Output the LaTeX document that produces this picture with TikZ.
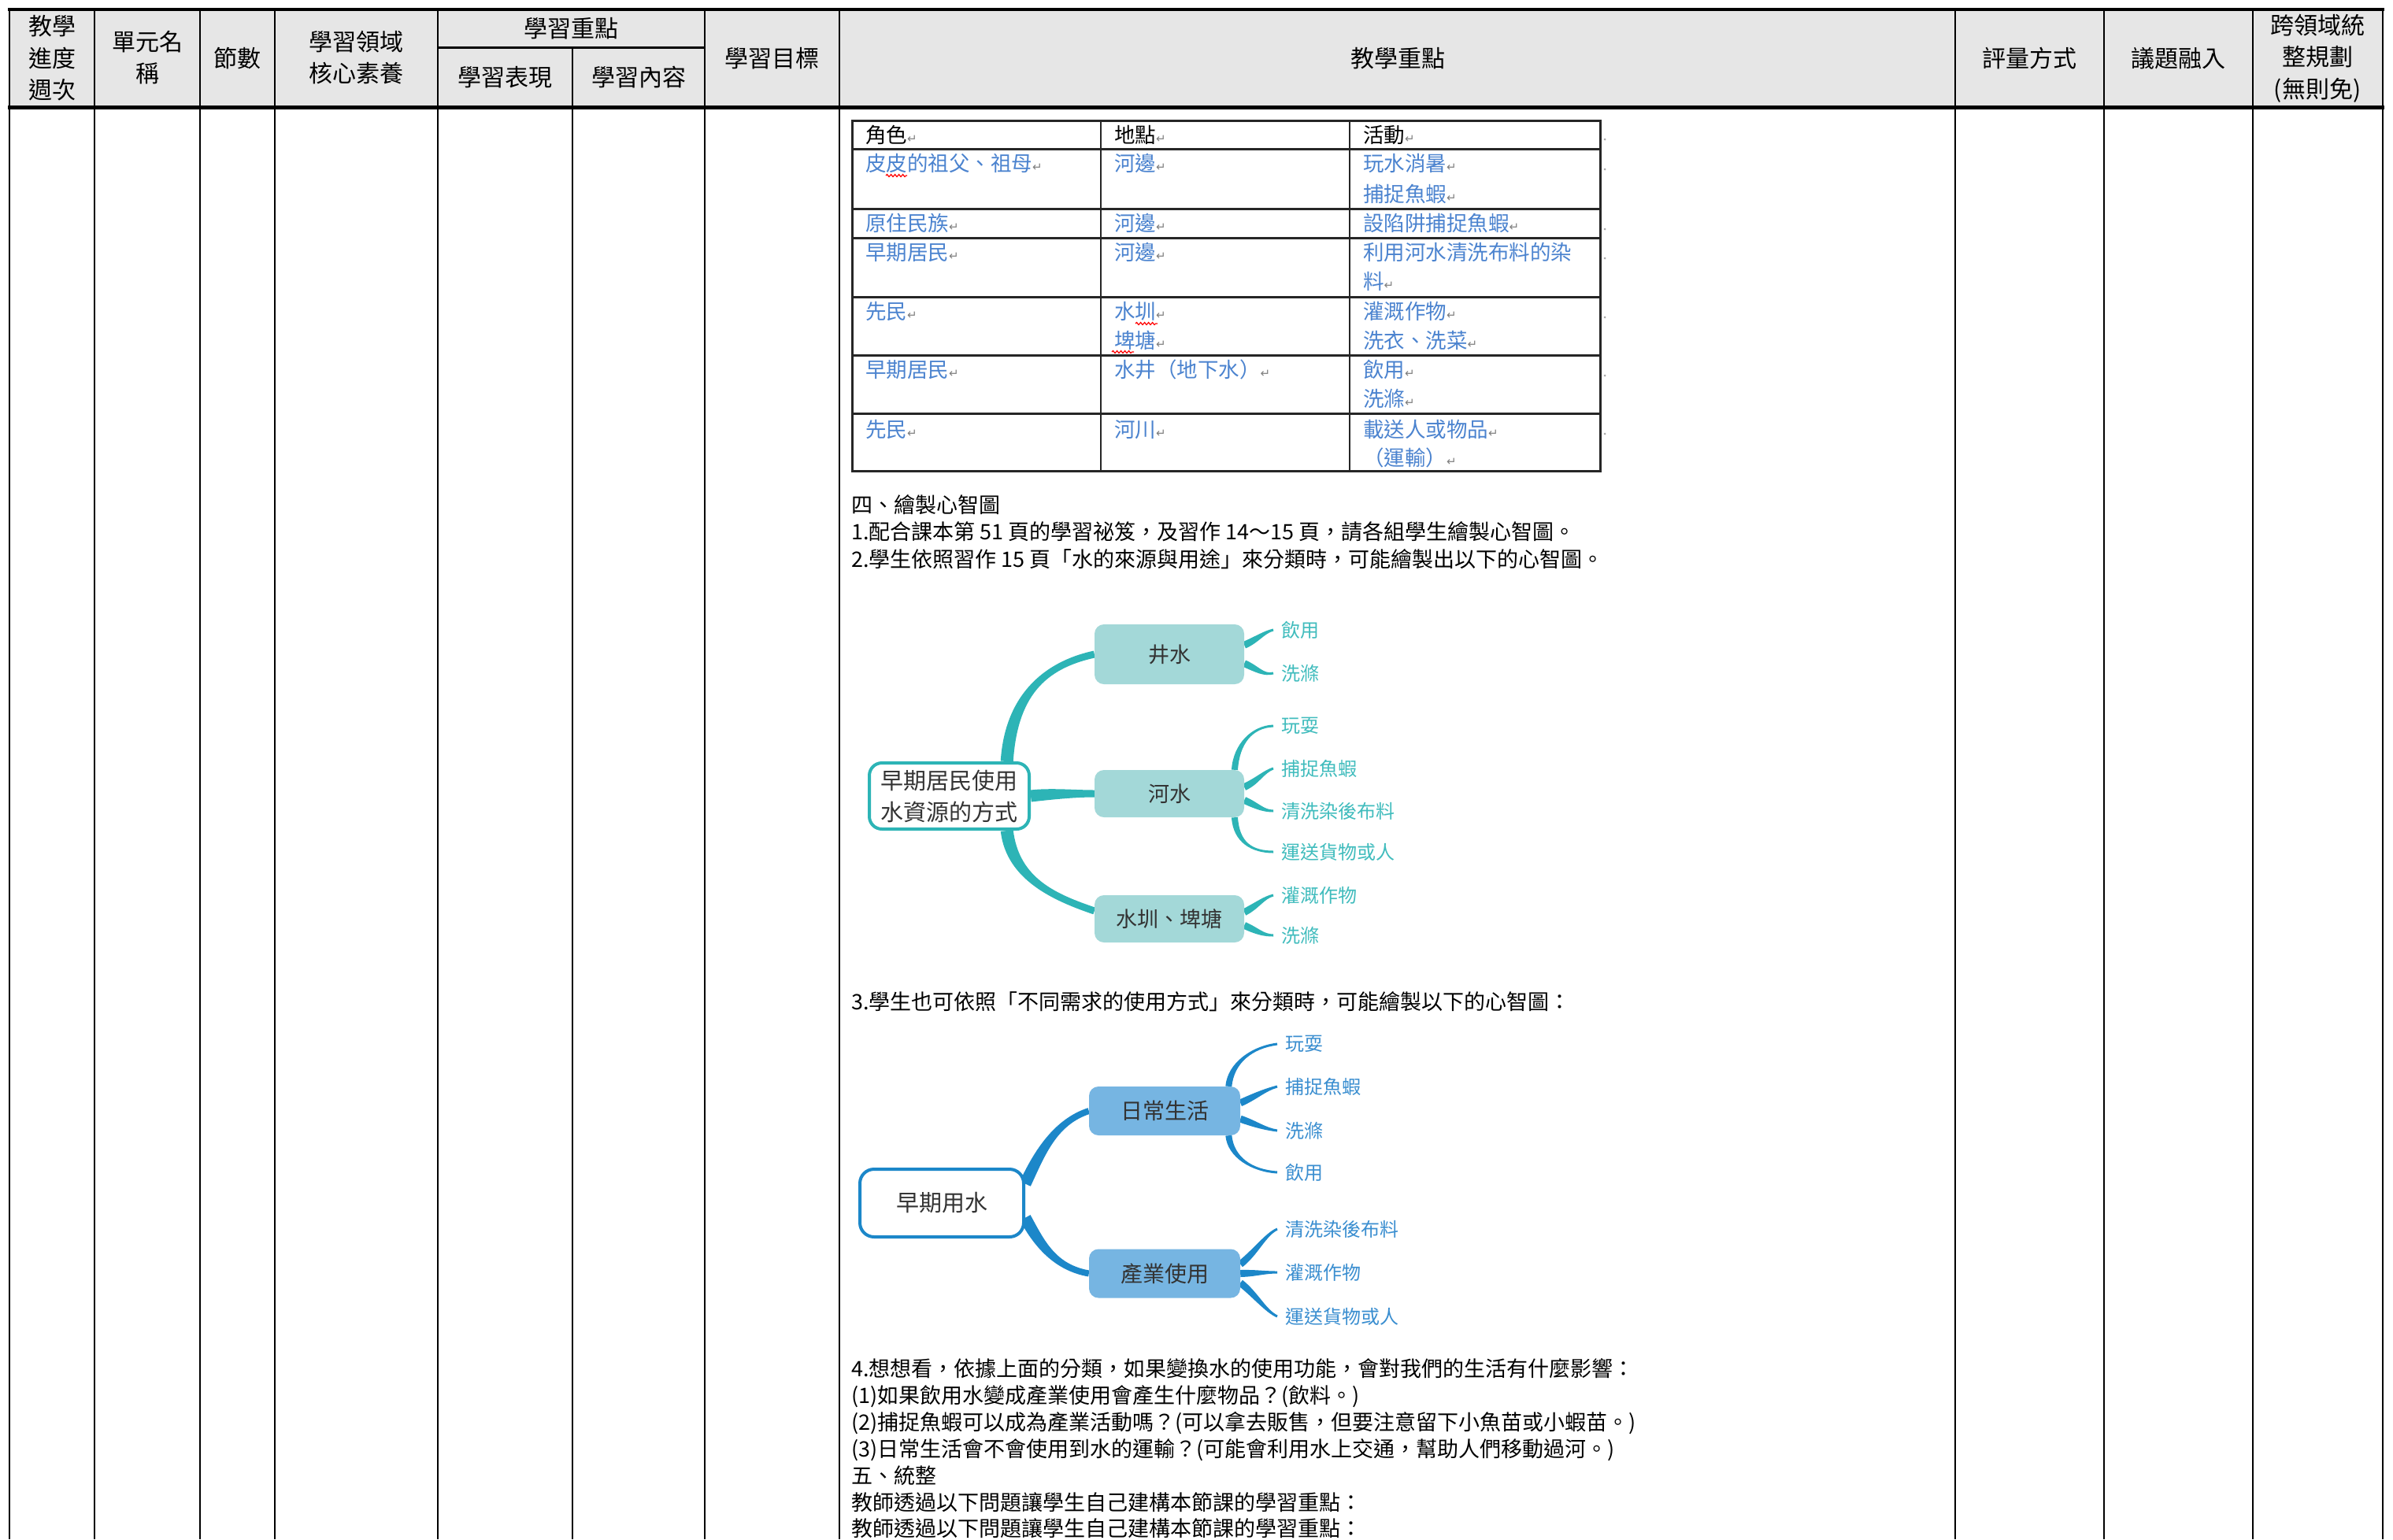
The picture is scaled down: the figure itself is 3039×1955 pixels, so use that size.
\documentclass[tikz,border=0pt]{standalone}
\usepackage{fontspec}
\setmainfont{Noto Sans CJK TC}
\newfontfamily\dejavu{DejaVu Sans}
\usetikzlibrary{calc,decorations.pathmorphing}
\pgfdeclarelayer{paper}
\pgfdeclarelayer{bg}
\pgfsetlayers{paper,bg,main}
\definecolor{hdrgray}{HTML}{E6E6E6}
\definecolor{cellblue}{HTML}{4B83CF}
\definecolor{teal1}{HTML}{2DB4B6}
\definecolor{tealfill}{HTML}{A3D8D8}
\definecolor{tealtext}{HTML}{40BCBD}
\definecolor{blue2}{HTML}{1C87C9}
\definecolor{bluefill}{HTML}{76B5E2}
\definecolor{bluetext}{HTML}{3A8ED0}
\definecolor{darktext}{HTML}{333333}
\newcommand\rt{{\dejavu\fontsize{15}{15}\selectfont\color{gray}↵}}
% tapered branch: color, A, c1, c2, B, half width at A, half width at B
\newcommand\mmbranch[7]{%
 \fill[#1] ($(#2)!#6!90:(#3)$) .. controls ($(#3)!#6!-90:(#2)$) and ($(#4)!#7!90:(#5)$) .. ($(#5)!#7!-90:(#4)$)
   -- ($(#5)!#7!90:(#4)$) .. controls ($(#4)!#7!-90:(#5)$) and ($(#3)!#6!90:(#2)$) .. ($(#2)!#6!-90:(#3)$) -- cycle;}
\begin{document}
\begin{tikzpicture}[x=1pt,y=-1pt,
 hdr/.style={font=\fontsize{30}{40.5}\selectfont, align=center, inner sep=0pt},
 body/.style={font=\fontsize{27}{34}\selectfont, anchor=base west, inner sep=0pt},
 cell/.style={font=\fontsize{26.5}{37}\selectfont, anchor=base west, inner sep=0pt, text=cellblue},
 cellh/.style={cell, text=black},
 root1/.style={draw=teal1, line width=4pt, fill=white, rounded corners=16pt, minimum width=203pt, minimum height=84pt, inner sep=0pt, align=center, font=\fontsize{29}{40}\selectfont, text=darktext},
 cat1/.style={fill=tealfill, rounded corners=12pt, minimum width=190pt, inner sep=0pt, font=\fontsize{27}{27}\selectfont, text=darktext},
 leaf1/.style={anchor=west, inner xsep=10pt, inner ysep=0pt, font=\fontsize{24}{24}\selectfont, text=tealtext},
 root2/.style={draw=blue2, line width=4pt, fill=white, rounded corners=18pt, minimum width=208pt, minimum height=86pt, inner sep=0pt, font=\fontsize{29}{29}\selectfont, text=darktext},
 cat2/.style={fill=bluefill, rounded corners=12pt, minimum width=192pt, minimum height=62pt, inner sep=0pt, font=\fontsize{28}{28}\selectfont, text=darktext},
 leaf2/.style={anchor=west, inner xsep=10pt, inner ysep=0pt, font=\fontsize{24}{24}\selectfont, text=bluetext},
 squiggle/.style={red, line width=1.2pt, decorate, decoration={snake, amplitude=1.5pt, segment length=5pt}}
]
\useasboundingbox (0,0) rectangle (3039,1955);
\begin{pgfonlayer}{paper}
\fill[white] (0,0) rectangle (3039,1955);
\end{pgfonlayer}
% ---------- outer table ----------
\fill[hdrgray] (12,12) rectangle (3026,136);
\foreach \x in {12,120,254,349,556,895,1066,2483,2672,2861,3026}
  \draw[line width=2pt] (\x,12) -- (\x,1955);
\draw[line width=2pt] (727,60) -- (727,1955);
\draw[line width=4pt] (10,12) -- (3028,12);
\draw[line width=5pt] (10,136) -- (3028,136);
\draw[line width=3pt] (556,60) -- (895,60);
% header texts
\node[hdr] (h1) at (66,74) {教學\\進度\\週次};
\node[hdr] (h2) at (187,73) {單元名\\稱};
\node[hdr] (h3) at (301,74) {節數};
\node[hdr] (h4) at (452,73) {學習領域\\核心素養};
\node[hdr] (h5) at (725,36) {學習重點};
\node[hdr] (h6) at (641,98) {學習表現};
\node[hdr] (h7) at (811,98) {學習內容};
\node[hdr] (h8) at (980,74) {學習目標};
\node[hdr] (h9) at (1775,74) {教學重點};
\node[hdr] (h10) at (2577,74) {評量方式};
\node[hdr] (h11) at (2766,74) {議題融入};
\node[hdr] (h12) at (2943,74) {跨領域統\\整規劃\\(無則免)};
% ---------- inner table ----------
\draw[line width=3pt, black!85] (1082,153) rectangle (2032,598);
\foreach \y in {189,265,302,377,451,525}
  \draw[line width=3pt, black!85] (1082,\y) -- (2032,\y);
\foreach \x in {1398,1714}
  \draw[line width=2pt, black!85] (\x,153) -- (\x,598);
\foreach \y in {177,215,291,328,403,477,551}
  \fill[gray!70] (2038,\y) circle (1.5pt);
\node[cellh] (c01) at (1099,181) {角色\rt};
\node[cellh] (c02) at (1415,181) {地點\rt};
\node[cellh] (c03) at (1731,181) {活動\rt};
\node[cell] (c11) at (1099,217) {皮皮的祖父、祖母\rt};
\node[cell] (c12) at (1415,217) {河邊\rt};
\node[cell] (c13) at (1731,217) {玩水消暑\rt};
\node[cell] (c13b) at (1731,256) {捕捉魚蝦\rt};
\node[cell] (c21) at (1099,293) {原住民族\rt};
\node[cell] (c22) at (1415,293) {河邊\rt};
\node[cell] (c23) at (1731,293) {設陷阱捕捉魚蝦\rt};
\node[cell] (c31) at (1099,330) {早期居民\rt};
\node[cell] (c32) at (1415,330) {河邊\rt};
\node[cell] (c33) at (1731,330) {利用河水清洗布料的染};
\node[cell] (c33b) at (1731,367) {料\rt};
\node[cell] (c41) at (1099,405) {先民\rt};
\node[cell] (c42) at (1415,405) {水圳\rt};
\node[cell] (c42b) at (1415,442) {埤塘\rt};
\node[cell] (c43) at (1731,405) {灌溉作物\rt};
\node[cell] (c43b) at (1731,442) {洗衣、洗菜\rt};
\node[cell] (c51) at (1099,479) {早期居民\rt};
\node[cell] (c52) at (1415,479) {水井（地下水）\rt};
\node[cell] (c53) at (1731,479) {飲用\rt};
\node[cell] (c53b) at (1731,516) {洗滌\rt};
\node[cell] (c61) at (1099,555) {先民\rt};
\node[cell] (c62) at (1415,555) {河川\rt};
\node[cell] (c63) at (1731,555) {載送人或物品\rt};
\node[cell] (c63b) at (1731,591) {（運輸）\rt};
\draw[squiggle] (1125,223) -- (1152,223);
\draw[squiggle] (1442,411) -- (1470,411);
\draw[squiggle] (1412,447) -- (1440,447);
% ---------- body text ----------
\node[body] (t1) at (1081,651) {四、繪製心智圖};
\node[body] (t2) at (1081,685) {1.配合課本第 51 頁的學習祕笈，及習作 14～15 頁，請各組學生繪製心智圖。};
\node[body] (t3) at (1081,720) {2.學生依照習作 15 頁「水的來源與用途」來分類時，可能繪製出以下的心智圖。};
\node[body] (t4) at (1081,1282) {3.學生也可依照「不同需求的使用方式」來分類時，可能繪製以下的心智圖：};
\node[body] (t5) at (1081,1748) {4.想想看，依據上面的分類，如果變換水的使用功能，會對我們的生活有什麼影響：};
\node[body] (t6) at (1081,1782) {(1)如果飲用水變成產業使用會產生什麼物品？(飲料。)};
\node[body] (t7) at (1081,1816) {(2)捕捉魚蝦可以成為產業活動嗎？(可以拿去販售，但要注意留下小魚苗或小蝦苗。)};
\node[body] (t8) at (1081,1850) {(3)日常生活會不會使用到水的運輸？(可能會利用水上交通，幫助人們移動過河。)};
\node[body] (t9) at (1081,1884) {五、統整};
\node[body] (t10) at (1081,1918) {教師透過以下問題讓學生自己建構本節課的學習重點：};
\node[body] (t11) at (1081,1951) {教師透過以下問題讓學生自己建構本節課的學習重點：};
% ---------- mind map 1 ----------
\node[root1] (r1) at (1205.5,1011) {早期居民使用\\水資源的方式};
\node[cat1, minimum height=76pt] (n11) at (1485,831) {井水};
\node[cat1, minimum height=60pt] (n12) at (1485,1008) {河水};
\node[cat1, minimum height=60pt] (n13) at (1485,1167) {水圳、埤塘};
\node[leaf1] (l11) at (1617,800) {飲用};
\node[leaf1] (l12) at (1617,855) {洗滌};
\node[leaf1] (l13) at (1617,922) {玩耍};
\node[leaf1] (l14) at (1617,976) {捕捉魚蝦};
\node[leaf1] (l15) at (1617,1030) {清洗染後布料};
\node[leaf1] (l16) at (1617,1082) {運送貨物或人};
\node[leaf1] (l17) at (1617,1137) {灌溉作物};
\node[leaf1] (l18) at (1617,1188) {洗滌};
\begin{pgfonlayer}{bg}
\mmbranch{teal1}{r1.31}{1284,885}{1325,845}{n11.west}{8pt}{4.5pt}
\mmbranch{teal1}{r1.east}{1335,1008}{1365,1008}{n12.west}{7.5pt}{4.5pt}
\mmbranch{teal1}{r1.-31}{1286,1117}{1340,1140}{n13.174}{8pt}{4.5pt}
\mmbranch{teal1}{n11.7}{1597,812}{1605,803}{l11.west}{4.5pt}{1.5pt}
\mmbranch{teal1}{n11.-7}{1597,850}{1605,858}{l12.west}{4.5pt}{1.5pt}
\mmbranch{teal1}{n12.20}{1570,945}{1590,923}{l13.west}{4pt}{1.5pt}
\mmbranch{teal1}{n12.5}{1597,992}{1605,980}{l14.west}{4.5pt}{1.5pt}
\mmbranch{teal1}{n12.-5}{1597,1024}{1605,1030}{l15.west}{4.5pt}{1.5pt}
\mmbranch{teal1}{n12.-20}{1570,1070}{1590,1082}{l16.west}{4pt}{1.5pt}
\mmbranch{teal1}{n13.5}{1597,1150}{1605,1140}{l17.west}{4.5pt}{1.5pt}
\mmbranch{teal1}{n13.-5}{1597,1183}{1605,1188}{l18.west}{4.5pt}{1.5pt}
\end{pgfonlayer}
% ---------- mind map 2 ----------
\node[root2] (r2) at (1196,1528) {早期用水};
\node[cat2] (n21) at (1479,1411) {日常生活};
\node[cat2] (n22) at (1479,1617.5) {產業使用};
\node[leaf2] (l21) at (1622,1326) {玩耍};
\node[leaf2] (l22) at (1622,1380) {捕捉魚蝦};
\node[leaf2] (l23) at (1622,1436) {洗滌};
\node[leaf2] (l24) at (1622,1489) {飲用};
\node[leaf2] (l25) at (1622,1561) {清洗染後布料};
\node[leaf2] (l26) at (1622,1616) {灌溉作物};
\node[leaf2] (l27) at (1622,1672) {運送貨物或人};
\begin{pgfonlayer}{bg}
\mmbranch{blue2}{r2.13}{1320,1465}{1340,1425}{n21.west}{7.5pt}{4pt}
\mmbranch{blue2}{r2.-10}{1320,1580}{1340,1610}{n22.west}{7.5pt}{4pt}
\mmbranch{blue2}{n21.21}{1563,1350}{1590,1330}{l21.west}{4pt}{1.5pt}
\mmbranch{blue2}{n21.6}{1595,1392}{1607,1384}{l22.west}{4.5pt}{1.5pt}
\mmbranch{blue2}{n21.-6}{1595,1428}{1607,1434}{l23.west}{4.5pt}{1.5pt}
\mmbranch{blue2}{n21.-21}{1563,1470}{1590,1487}{l24.west}{4pt}{1.5pt}
\mmbranch{blue2}{n22.7}{1595,1590}{1607,1568}{l25.west}{4.5pt}{1.5pt}
\mmbranch{blue2}{n22.east}{1595,1617}{1605,1616}{l26.west}{4.5pt}{1.5pt}
\mmbranch{blue2}{n22.-7}{1595,1645}{1607,1665}{l27.west}{4.5pt}{1.5pt}
\end{pgfonlayer}
\end{tikzpicture}
\end{document}
